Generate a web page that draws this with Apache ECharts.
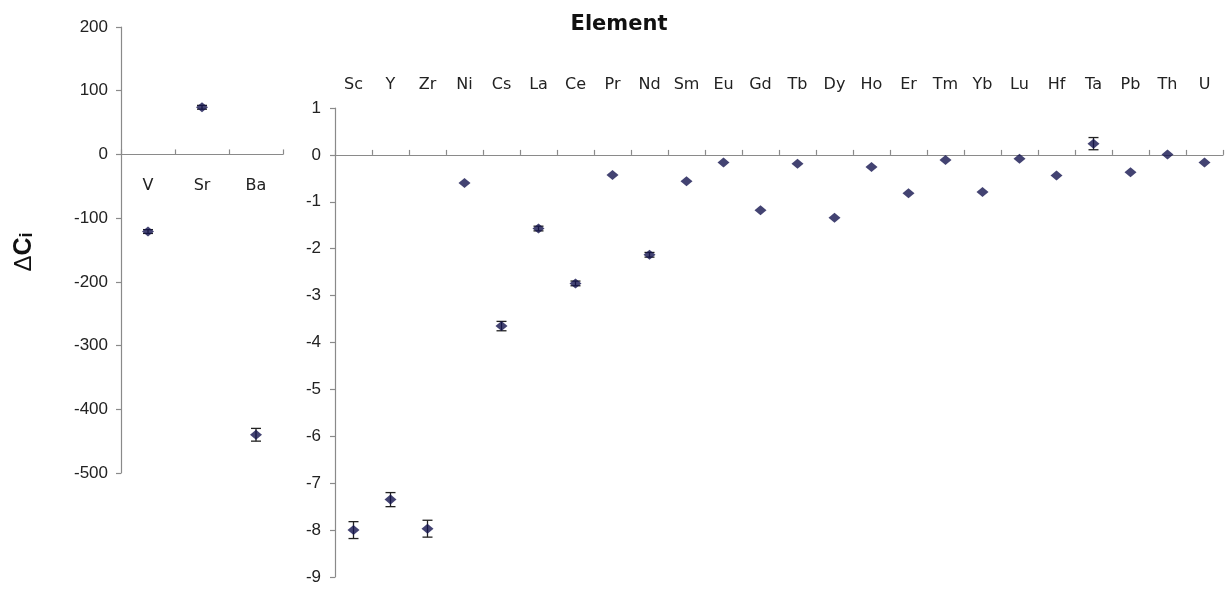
<!DOCTYPE html>
<html>
<head>
<meta charset="utf-8">
<script src="https://cdn.jsdelivr.net/npm/echarts@6/dist/echarts.min.js"></script>
<style>html,body{margin:0;padding:0;background:#fff}#c{width:1228px;height:590px}</style>
</head>
<body>
<div id="c"></div>
<script>
// ---- data ----
var leftCats = ['V', 'Sr', 'Ba'];
var leftVals = [-121, 74, -440];
var leftErr = [3, 3, 10];
var leftTicks = [-500, -400, -300, -200, -100, 0, 100, 200];

var rightCats = ['Sc', 'Y', 'Zr', 'Ni', 'Cs', 'La', 'Ce', 'Pr', 'Nd', 'Sm', 'Eu', 'Gd',
  'Tb', 'Dy', 'Ho', 'Er', 'Tm', 'Yb', 'Lu', 'Hf', 'Ta', 'Pb', 'Th', 'U'];
var rightVals = [-8.0, -7.35, -7.97, -0.6, -3.65, -1.57, -2.74, -0.43, -2.13, -0.56, -0.16, -1.18,
  -0.19, -1.34, -0.26, -0.82, -0.11, -0.79, -0.08, -0.44, 0.24, -0.37, 0.01, -0.16];
var rightErr = [0.18, 0.15, 0.18, 0, 0.1, 0.05, 0.05, 0, 0.05, 0, 0, 0,
  0, 0, 0, 0, 0, 0, 0, 0, 0.13, 0, 0, 0];
var rightTicks = [-9, -8, -7, -6, -5, -4, -3, -2, -1, 0, 1];

var xTitle = 'Element';
var yTitle = 'ΔCi';

// ---- layout ----
var G0 = { left: 121, top: 27, width: 162, height: 446 };
var G1 = { left: 335, top: 108, width: 888, height: 469 };

// offset that moves a bottom x axis up onto the value 0 of its y axis
function zeroOffset(g, ticks) {
  var mn = ticks[0], mx = ticks[ticks.length - 1];
  return -g.height * (0 - mn) / (mx - mn);
}

// ---- build ----
function pts(vals) { return vals.map(function (v, i) { return [i, v]; }); }
function errs(vals, e) {
  var out = [];
  vals.forEach(function (v, i) { if (e[i] > 0) out.push([i, v - e[i], v + e[i]]); });
  return out;
}
function renderErr(params, api) {
  var lo = api.coord([api.value(0), api.value(1)]);
  var hi = api.coord([api.value(0), api.value(2)]);
  var w = 5;
  var st = { stroke: '#222', lineWidth: 1.3 };
  return {
    type: 'group',
    children: [
      { type: 'line', shape: { x1: lo[0], y1: lo[1], x2: hi[0], y2: hi[1] }, style: st },
      { type: 'line', shape: { x1: lo[0] - w, y1: lo[1], x2: lo[0] + w, y2: lo[1] }, style: st },
      { type: 'line', shape: { x1: hi[0] - w, y1: hi[1], x2: hi[0] + w, y2: hi[1] }, style: st }
    ]
  };
}

var FONT = 'Liberation Sans, Arial, sans-serif';
var CATFONT = 'DejaVu Sans, sans-serif';
var axisLineStyle = { color: '#8a8a8a', width: 1.2 };
var labelColor = '#222';
var markerColor = '#14144f';

var chart = echarts.init(document.getElementById('c'));
chart.setOption({
  animation: false,
  backgroundColor: '#fff',
  title: {
    text: xTitle, left: 614, top: 9, textAlign: 'center',
    textStyle: { fontFamily: CATFONT, fontWeight: 'bold', fontSize: 21, color: '#111' }
  },
  graphic: [{
    type: 'text', x: 24, y: 252, rotation: Math.PI / 2,
    style: {
      text: '{d|' + yTitle.charAt(0) + '}{c|' + yTitle.charAt(1) + '}{i|' + yTitle.slice(2) + '}',
      rich: {
        d: { font: 'normal 24px "Liberation Sans", Arial, sans-serif', fill: '#111', verticalAlign: 'bottom' },
        c: { font: 'bold 25px "Liberation Sans", Arial, sans-serif', fill: '#111', verticalAlign: 'bottom' },
        i: { font: 'bold 18px "Liberation Sans", Arial, sans-serif', fill: '#111', verticalAlign: 'bottom' }
      },
      align: 'center', verticalAlign: 'middle'
    }
  }],
  grid: [G0, G1],
  xAxis: [
    {
      gridIndex: 0, type: 'category', data: leftCats, position: 'bottom',
      offset: zeroOffset(G0, leftTicks),
      axisLine: { onZero: false, lineStyle: axisLineStyle },
      axisTick: { show: true, inside: true, length: 5, lineStyle: axisLineStyle },
      axisLabel: { margin: 23, fontSize: 16, color: labelColor, fontFamily: CATFONT },
      splitLine: { show: false }
    },
    {
      gridIndex: 1, type: 'category', data: rightCats, position: 'top',
      axisLine: { show: false, onZero: false },
      axisTick: { show: false },
      axisLabel: { margin: 15, fontSize: 16, color: labelColor, fontFamily: CATFONT, interval: 0 },
      splitLine: { show: false }
    },
    {
      gridIndex: 1, type: 'category', data: rightCats, position: 'bottom',
      offset: zeroOffset(G1, rightTicks),
      axisLine: { onZero: false, lineStyle: axisLineStyle },
      axisTick: { show: true, inside: true, length: 5, lineStyle: axisLineStyle, interval: 0 },
      axisLabel: { show: false },
      splitLine: { show: false }
    }
  ],
  yAxis: [
    {
      gridIndex: 0, type: 'value', min: leftTicks[0], max: leftTicks[leftTicks.length - 1], interval: 100,
      axisLine: { show: true, onZero: false, lineStyle: axisLineStyle },
      axisTick: { show: true, length: 5, lineStyle: axisLineStyle },
      axisLabel: { margin: 13, fontSize: 17, color: labelColor, fontFamily: FONT },
      splitLine: { show: false }
    },
    {
      gridIndex: 1, type: 'value', min: rightTicks[0], max: rightTicks[rightTicks.length - 1], interval: 1,
      axisLine: { show: true, onZero: false, lineStyle: axisLineStyle },
      axisTick: { show: true, length: 5, lineStyle: axisLineStyle },
      axisLabel: { margin: 14, fontSize: 17, color: labelColor, fontFamily: FONT },
      splitLine: { show: false }
    }
  ],
  series: [
    {
      type: 'custom', xAxisIndex: 0, yAxisIndex: 0, data: errs(leftVals, leftErr),
      renderItem: renderErr, z: 2
    },
    {
      type: 'scatter', xAxisIndex: 0, yAxisIndex: 0, data: pts(leftVals),
      symbol: 'diamond', symbolSize: [12, 10], itemStyle: { color: markerColor }, z: 3
    },
    {
      type: 'custom', xAxisIndex: 2, yAxisIndex: 1, data: errs(rightVals, rightErr),
      renderItem: renderErr, z: 2
    },
    {
      type: 'scatter', xAxisIndex: 2, yAxisIndex: 1, data: pts(rightVals),
      symbol: 'diamond', symbolSize: [12, 10], itemStyle: { color: markerColor }, z: 3
    }
  ]
});
</script>
</body>
</html>
